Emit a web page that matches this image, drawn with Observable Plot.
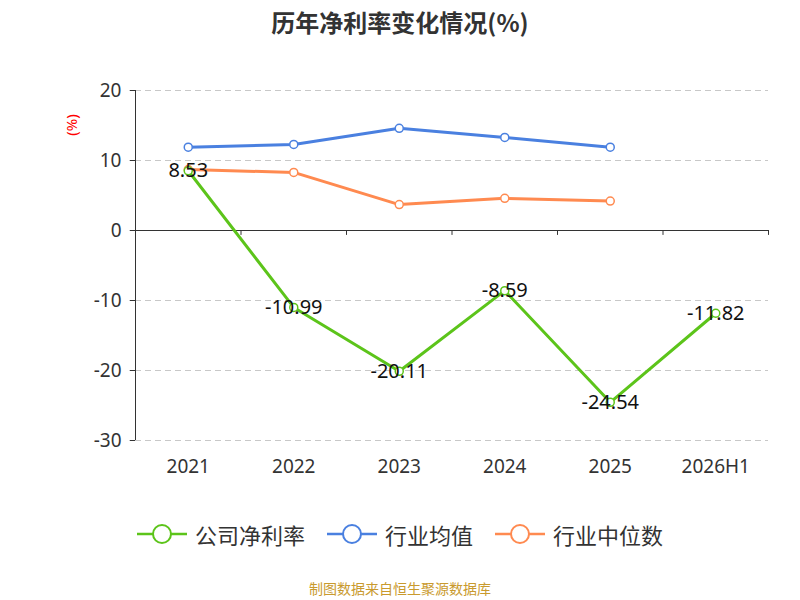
<!DOCTYPE html>
<html><head><meta charset="utf-8">
<script src="https://cdn.jsdelivr.net/npm/d3@7"></script>
<script src="https://cdn.jsdelivr.net/npm/@observablehq/plot@0.6"></script>
<style>
body{margin:0;width:800px;height:600px;position:relative;font-family:"Noto Sans CJK SC","Noto Sans",sans-serif;background:#fff}
#title{position:absolute;top:4px;width:800px;text-align:center;font-size:24px;font-weight:bold;color:#333}
#legend{position:absolute;top:518px;width:800px;display:flex;justify-content:center;gap:22px;font-size:22px;color:#333}
#legend span{display:flex;align-items:center;gap:8px}
#foot{position:absolute;top:578px;width:800px;text-align:center;font-size:14px;color:#c99a2e}
#chart{position:absolute;top:0;left:0}
</style></head><body>
<div id="chart"></div>
<div id="title">历年净利率变化情况(%)</div>
<div id="legend"></div>
<div id="foot">制图数据来自恒生聚源数据库</div>
<script>
const years = ["2021","2022","2023","2024","2025","2026H1"];
const company = [8.53,-10.99,-20.11,-8.59,-24.54,-11.82];
const industryAvg = [11.9,12.3,14.6,13.3,11.9];
const industryMedian = [8.7,8.3,3.7,4.6,4.2];
const yTicks = [20,10,0,-10,-20,-30];
const seriesNames = ["公司净利率","行业均值","行业中位数"];
const colors = ["#5cc41a","#4a80e0","#ff8a50"];

const rows = (vals,s)=>vals.map((v,i)=>({i:i+0.5,v,s}));
const comp = rows(company,0), avg = rows(industryAvg,1), med = rows(industryMedian,2);

const plot = Plot.plot({
  width:800,height:600,marginTop:90,marginBottom:160,marginLeft:135,marginRight:32,
  x:{type:"linear",domain:[0,6],axis:null},
  y:{type:"linear",domain:[-30,20],axis:null},
  style:{fontFamily:"Noto Sans, sans-serif"},
  marks:[
    Plot.ruleY(yTicks.filter(d=>d!==0),{x1:0,x2:6,stroke:"#c8c8c8",strokeDasharray:"6,4"}),
    Plot.ruleY([0],{x1:0,x2:6,stroke:"#333"}),
    Plot.ruleX([0],{y1:-30,y2:20,stroke:"#333"}),
    Plot.ruleY(yTicks,{x1:-0.05,x2:0,stroke:"#333"}),
    Plot.text(yTicks,{x:0,y:d=>d,text:d=>String(d),textAnchor:"end",dx:-14,fontSize:19,fill:"#333"}),
    Plot.ruleX(d3.range(7),{y1:0,y2:-0.7,stroke:"#333"}),
    Plot.text(years,{x:(d,i)=>i+0.5,y:()=>-30,text:d=>d,dy:26,fontSize:19,fill:"#333"}),
    Plot.line(avg,{x:"i",y:"v",stroke:colors[1],strokeWidth:3}),
    Plot.line(med,{x:"i",y:"v",stroke:colors[2],strokeWidth:3}),
    Plot.line(comp,{x:"i",y:"v",stroke:colors[0],strokeWidth:3}),
    Plot.dot(avg,{x:"i",y:"v",r:4,fill:"#fff",stroke:colors[1],strokeWidth:1.5}),
    Plot.dot(med,{x:"i",y:"v",r:4,fill:"#fff",stroke:colors[2],strokeWidth:1.5}),
    Plot.dot(comp,{x:"i",y:"v",r:4,fill:"#fff",stroke:colors[0],strokeWidth:1.5}),
    Plot.text(comp,{x:"i",y:"v",text:d=>d.v.toFixed(2),fontSize:20,fill:"#111"})
  ]
});
const svg = d3.select(plot);
svg.append("text").attr("transform","translate(77,125) rotate(-90)").attr("text-anchor","middle")
  .attr("fill","red").attr("font-size",15).text("(%)");
document.getElementById("chart").appendChild(plot);
const lg = document.getElementById("legend");
seriesNames.forEach((n,k)=>{
  const s=document.createElement("span");
  s.innerHTML=`<svg width="50" height="24"><line x1="0" y1="12" x2="50" y2="12" stroke="${colors[k]}" stroke-width="2.5"/><circle cx="25" cy="12" r="9" fill="#fff" stroke="${colors[k]}" stroke-width="2"/></svg>${n}`;
  lg.appendChild(s);
});
</script></body></html>
